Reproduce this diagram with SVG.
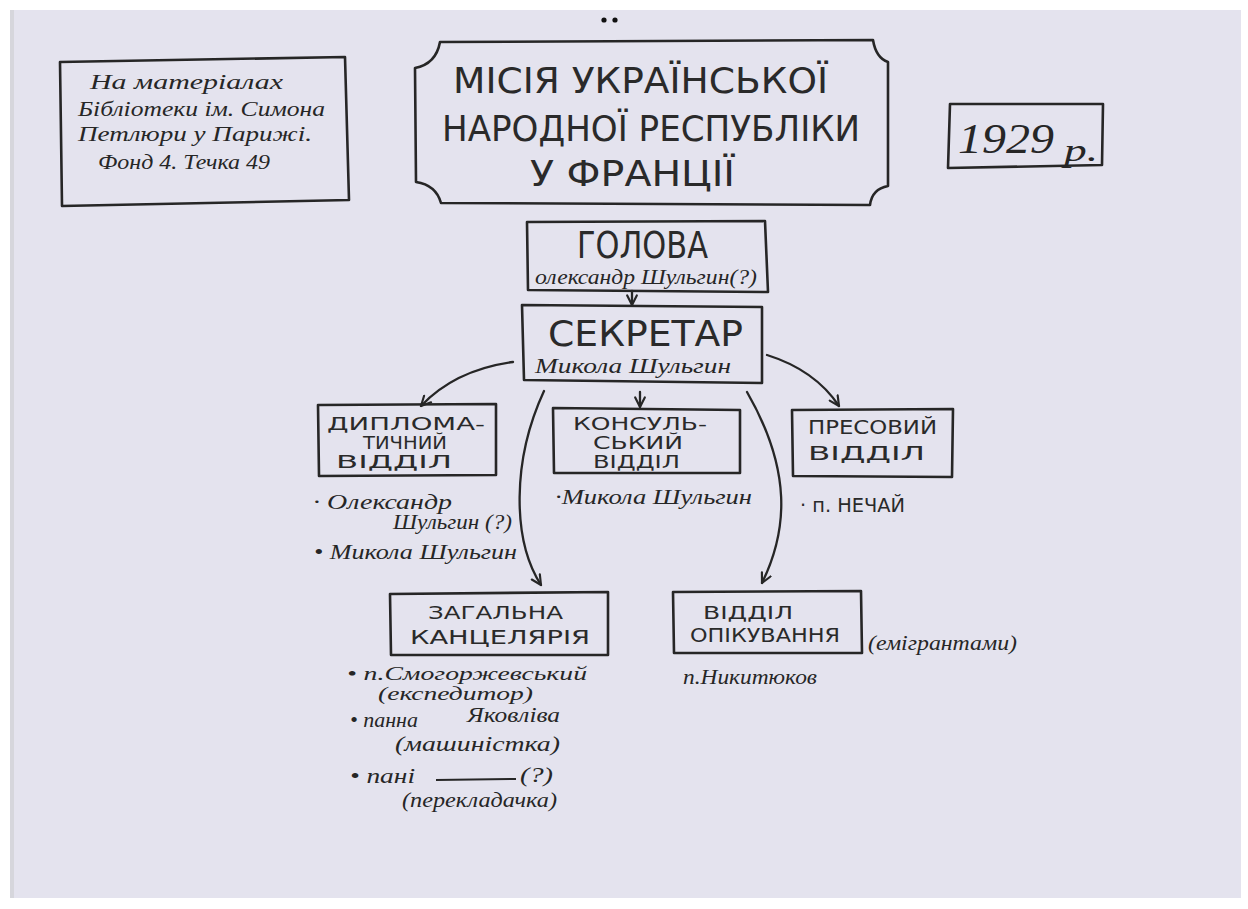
<svg xmlns="http://www.w3.org/2000/svg" width="1248" height="909" viewBox="0 0 1248 909">
<defs>
<style>
.box{fill:none;stroke:#262626;stroke-width:2.6;stroke-linejoin:round;stroke-linecap:round}
.cap{font-family:"DejaVu Sans","Liberation Sans",sans-serif;fill:#2a2a2a;text-anchor:start}
.hw{font-family:"Liberation Serif","DejaVu Serif",serif;font-style:italic;fill:#262626}
.conn{fill:none;stroke:#262626;stroke-width:2.3;stroke-linecap:round}
</style>
<marker id="arr" viewBox="0 0 10 10" refX="9" refY="5" markerWidth="12" markerHeight="12" markerUnits="userSpaceOnUse" orient="auto">
<path d="M1,1 L9,5 L1,9" fill="none" stroke="#262626" stroke-width="1.8" stroke-linecap="round" stroke-linejoin="round"/>
</marker>
</defs>
<rect x="0" y="0" width="1248" height="909" fill="#ffffff"/>
<rect x="10" y="10" width="1231" height="888" fill="#e4e3ee"/>
<rect x="10" y="10" width="4" height="888" fill="#d6d6dc"/>
<circle cx="604" cy="20" r="2.6" fill="#111"/>
<circle cx="615" cy="20" r="2.6" fill="#111"/>

<g id="source-note">
<polygon class="box" points="60,62 345,57 349,200 62,206"/>
<text class="hw" x="90" y="89" font-size="22" textLength="193" lengthAdjust="spacingAndGlyphs">На матеріалах</text>
<text class="hw" x="78" y="116" font-size="22" textLength="247" lengthAdjust="spacingAndGlyphs">Бібліотеки ім. Симона</text>
<text class="hw" x="78" y="141" font-size="22" textLength="234" lengthAdjust="spacingAndGlyphs">Петлюри у Парижі.</text>
<text class="hw" x="98" y="169" font-size="20" textLength="172" lengthAdjust="spacingAndGlyphs">Фонд 4. Течка 49</text>
</g>

<g id="title">
<path class="box" d="M440,42 L873,40 Q876,58 888,62 L888,186 Q872,189 870,205 L441,203 Q436,185 416,182 L415,68 Q436,64 440,42 Z"/>
<text class="cap" x="453" y="93" font-size="36" textLength="375" lengthAdjust="spacingAndGlyphs">МІСІЯ УКРАЇНСЬКОЇ</text>
<text class="cap" x="442" y="141" font-size="36" textLength="418" lengthAdjust="spacingAndGlyphs">НАРОДНОЇ  РЕСПУБЛІКИ</text>
<text class="cap" x="530" y="186" font-size="36" textLength="205" lengthAdjust="spacingAndGlyphs">У ФРАНЦІЇ</text>
</g>

<g id="year">
<polygon class="box" points="950,104 1103,104 1102,165 948,168"/>
<text class="hw" x="958" y="153" font-size="42" textLength="96" lengthAdjust="spacingAndGlyphs">1929</text>
<text class="hw" x="1064" y="161" font-size="32" textLength="34" lengthAdjust="spacingAndGlyphs">р.</text>
</g>

<g id="head">
<polygon class="box" points="527,222 765,221 768,292 528,290"/>
<text class="cap" x="577" y="258" font-size="37" textLength="131" lengthAdjust="spacingAndGlyphs">ГОЛОВА</text>
<text class="hw" x="535" y="284" font-size="20" textLength="222" lengthAdjust="spacingAndGlyphs">олександр Шульгин(?)</text>
</g>

<g id="secretary">
<polygon class="box" points="522,305 762,307 762,383 524,380"/>
<text class="cap" x="548" y="346" font-size="36" textLength="195" lengthAdjust="spacingAndGlyphs">СЕКРЕТАР</text>
<text class="hw" x="535" y="373" font-size="20" textLength="196" lengthAdjust="spacingAndGlyphs">Микола Шульгин</text>
</g>

<g id="diplomatic">
<polygon class="box" points="318,405 496,404 496,475 319,476"/>
<text class="cap" x="327" y="430" font-size="17" textLength="158" lengthAdjust="spacingAndGlyphs">ДИПЛОМА-</text>
<text class="cap" x="363" y="449" font-size="17" textLength="84" lengthAdjust="spacingAndGlyphs">ТИЧНИЙ</text>
<text class="cap" x="336" y="468" font-size="17" textLength="116" lengthAdjust="spacingAndGlyphs">ВІДДІЛ</text>
<text class="hw" x="313" y="509" font-size="20" textLength="139" lengthAdjust="spacingAndGlyphs">· Олександр</text>
<text class="hw" x="393" y="529" font-size="20" textLength="119" lengthAdjust="spacingAndGlyphs">Шульгин (?)</text>
<text class="hw" x="314" y="559" font-size="20" textLength="203" lengthAdjust="spacingAndGlyphs">• Микола Шульгин</text>
</g>

<g id="consular">
<polygon class="box" points="553,408 740,410 740,473 554,473"/>
<text class="cap" x="573" y="430" font-size="17" textLength="134" lengthAdjust="spacingAndGlyphs">КОНСУЛЬ-</text>
<text class="cap" x="593" y="449" font-size="17" textLength="90" lengthAdjust="spacingAndGlyphs">СЬКИЙ</text>
<text class="cap" x="593" y="468" font-size="17" textLength="87" lengthAdjust="spacingAndGlyphs">ВІДДІЛ</text>
<text class="hw" x="555" y="504" font-size="20" textLength="197" lengthAdjust="spacingAndGlyphs">·Микола Шульгин</text>
</g>

<g id="press">
<polygon class="box" points="792,410 953,409 952,477 793,476"/>
<text class="cap" x="808" y="434" font-size="19" textLength="129" lengthAdjust="spacingAndGlyphs">ПРЕСОВИЙ</text>
<text class="cap" x="808" y="460" font-size="19" textLength="117" lengthAdjust="spacingAndGlyphs">ВІДДІЛ</text>
<text class="cap" x="800" y="512" font-size="19" textLength="105" lengthAdjust="spacingAndGlyphs">· п. НЕЧАЙ</text>
</g>

<g id="chancellery">
<polygon class="box" points="390,594 608,592 608,655 391,655"/>
<text class="cap" x="428" y="619" font-size="17" textLength="135" lengthAdjust="spacingAndGlyphs">ЗАГАЛЬНА</text>
<text class="cap" x="410" y="644" font-size="20" textLength="180" lengthAdjust="spacingAndGlyphs">КАНЦЕЛЯРІЯ</text>
<text class="hw" x="347" y="680" font-size="19" textLength="240" lengthAdjust="spacingAndGlyphs">• п.Смогоржевський</text>
<text class="hw" x="378" y="700" font-size="19" textLength="155" lengthAdjust="spacingAndGlyphs">(експедитор)</text>
<text class="hw" x="350" y="727" font-size="20" textLength="68" lengthAdjust="spacingAndGlyphs">• панна</text>
<text class="hw" x="467" y="722" font-size="20" textLength="93" lengthAdjust="spacingAndGlyphs">Яковліва</text>
<text class="hw" x="395" y="751" font-size="20" textLength="165" lengthAdjust="spacingAndGlyphs">(машиністка)</text>
<text class="hw" x="350" y="783" font-size="20" textLength="65" lengthAdjust="spacingAndGlyphs">• пані</text>
<line x1="436" y1="780" x2="516" y2="779" stroke="#262626" stroke-width="2"/>
<text class="hw" x="520" y="782" font-size="22" textLength="33" lengthAdjust="spacingAndGlyphs">(?)</text>
<text class="hw" x="402" y="807" font-size="20" textLength="155" lengthAdjust="spacingAndGlyphs">(перекладачка)</text>
</g>

<g id="care">
<polygon class="box" points="673,592 861,591 862,653 674,653"/>
<text class="cap" x="703" y="619" font-size="17" textLength="90" lengthAdjust="spacingAndGlyphs">ВІДДІЛ</text>
<text class="cap" x="690" y="642" font-size="20" textLength="150" lengthAdjust="spacingAndGlyphs">ОПІКУВАННЯ</text>
<text class="hw" x="868" y="650" font-size="20" textLength="149" lengthAdjust="spacingAndGlyphs">(емігрантами)</text>
<text class="hw" x="683" y="684" font-size="22" textLength="134" lengthAdjust="spacingAndGlyphs">п.Никитюков</text>
</g>

<g id="connectors">
<path class="conn" d="M632,291 L632,305" marker-end="url(#arr)"/>
<path class="conn" d="M513,362 Q455,370 421,406" marker-end="url(#arr)"/>
<path class="conn" d="M640,392 L640,407" marker-end="url(#arr)"/>
<path class="conn" d="M767,355 Q815,370 839,406" marker-end="url(#arr)"/>
<path class="conn" d="M544,391 C512,460 512,540 541,585" marker-end="url(#arr)"/>
<path class="conn" d="M747,392 C792,470 788,530 762,583" marker-end="url(#arr)"/>
</g>
</svg>
